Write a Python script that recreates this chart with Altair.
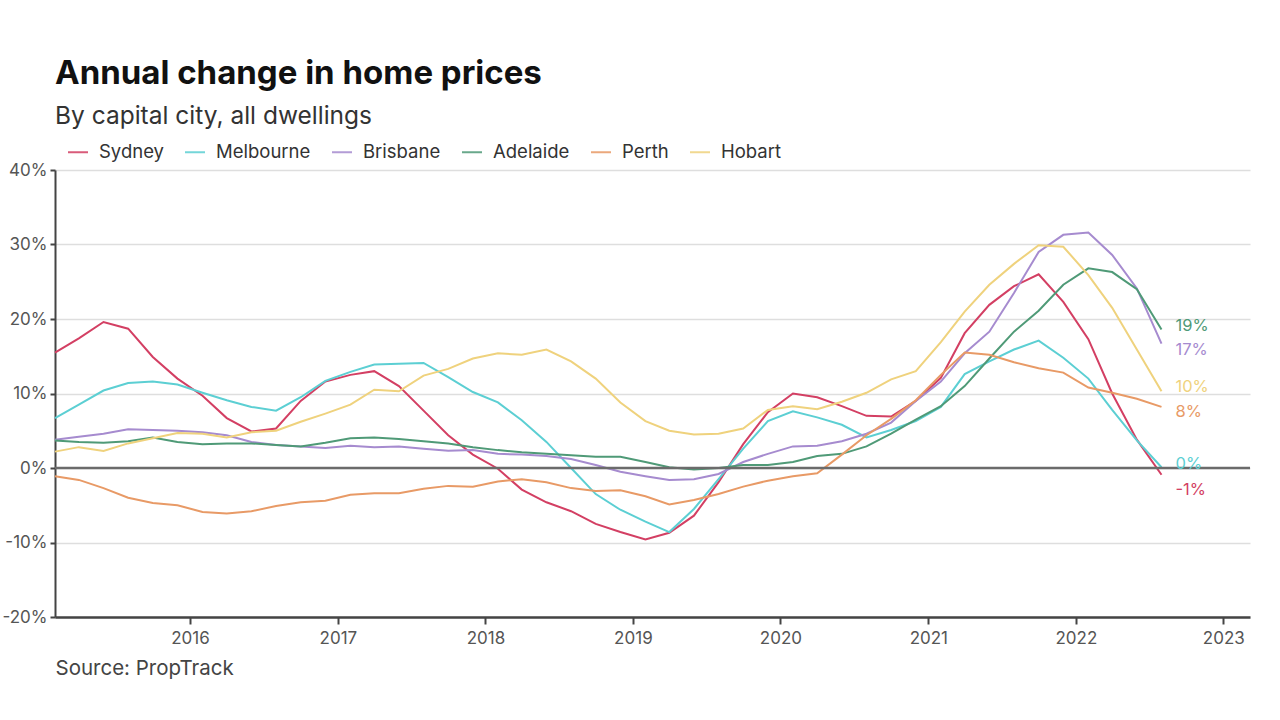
import altair as alt
import pandas as pd

# bimonthly observations, Feb 2015 .. Aug 2022
dates = pd.date_range("2015-02-01", "2022-08-01", freq="2MS")

cities = ["Sydney", "Melbourne", "Brisbane", "Adelaide", "Perth", "Hobart"]
colors = ["#d33f63", "#5ccfd3", "#a68bcf", "#4f9a77", "#e89a66", "#efd27d"]

sydney = [15.5, 17.4, 19.6, 18.7, 14.9, 12.0,
          9.7, 6.7, 4.9, 5.3, 9.0, 11.6,
          12.5, 13.0, 11.0, 7.7, 4.4, 1.8,
          -0.1, -2.9, -4.6, -5.8, -7.5, -8.6,
          -9.6, -8.7, -6.4, -1.9, 3.2, 7.5,
          10.0, 9.5, 8.3, 7.0, 6.9, 9.0,
          12.1, 18.1, 21.9, 24.4, 26.0, 22.3,
          17.3, 10.0, 3.8, -0.9]
melbourne = [6.7, 8.5, 10.4, 11.4, 11.6, 11.2,
             10.1, 9.1, 8.2, 7.7, 9.5, 11.7,
             12.9, 13.9, 14.0, 14.1, 12.2, 10.2,
             8.8, 6.4, 3.5, 0.0, -3.5, -5.6,
             -7.2, -8.6, -5.5, -1.5, 2.6, 6.3,
             7.6, 6.8, 5.8, 4.1, 5.1, 6.3,
             8.2, 12.6, 14.3, 15.9, 17.1, 14.8,
             12.0, 7.8, 3.7, 0.1]
brisbane = [3.8, 4.2, 4.6, 5.2, 5.1, 5.0,
            4.8, 4.4, 3.5, 3.1, 2.9, 2.7,
            3.0, 2.8, 2.9, 2.6, 2.3, 2.4,
            1.9, 1.8, 1.6, 1.2, 0.4, -0.5,
            -1.1, -1.6, -1.5, -0.8, 0.8, 1.9,
            2.9, 3.0, 3.6, 4.6, 6.1, 9.0,
            11.6, 15.4, 18.3, 23.5, 29.0, 31.3,
            31.6, 28.6, 24.1, 16.7]
adelaide = [3.7, 3.5, 3.4, 3.6, 4.1, 3.5,
            3.2, 3.3, 3.3, 3.1, 2.9, 3.4,
            4.0, 4.1, 3.9, 3.6, 3.3, 2.8,
            2.4, 2.1, 1.9, 1.7, 1.5, 1.5,
            0.8, 0.1, -0.2, 0.0, 0.4, 0.4,
            0.8, 1.6, 1.9, 2.9, 4.6, 6.5,
            8.3, 11.0, 14.7, 18.3, 21.1, 24.6,
            26.8, 26.3, 24.0, 18.6]
perth = [-1.1, -1.6, -2.7, -4.0, -4.7, -5.0,
         -5.9, -6.1, -5.8, -5.1, -4.6, -4.4,
         -3.6, -3.4, -3.4, -2.8, -2.4, -2.5,
         -1.8, -1.5, -1.9, -2.7, -3.1, -3.0,
         -3.8, -4.9, -4.3, -3.5, -2.5, -1.7,
         -1.1, -0.7, 1.8, 4.4, 6.6, 9.1,
         12.5, 15.5, 15.2, 14.2, 13.4, 12.8,
         10.8, 10.1, 9.3, 8.2]
hobart = [2.2, 2.8, 2.3, 3.3, 4.0, 4.7,
          4.6, 4.1, 4.8, 5.0, 6.2, 7.3,
          8.5, 10.5, 10.3, 12.4, 13.3, 14.7,
          15.4, 15.2, 15.9, 14.3, 12.0, 8.8,
          6.3, 5.0, 4.5, 4.6, 5.3, 7.8,
          8.3, 7.9, 8.9, 10.1, 11.9, 13.0,
          16.9, 21.0, 24.6, 27.4, 29.9, 29.7,
          25.9, 21.5, 15.9, 10.3]

series = [sydney, melbourne, brisbane, adelaide, perth, hobart]
end_labels = ["-1%", "0%", "17%", "19%", "8%", "10%"]
label_dy = [15, -3, 6, -3, 5, -4]

rows = []
for city, vals in zip(cities, series):
    for d, v in zip(dates, vals):
        rows.append({"date": d, "city": city, "value": v})
df = pd.DataFrame(rows)

FONT = "Inter"

x_enc = alt.X(
    "date:T",
    scale=alt.Scale(domain=["2015-02-01", "2023-03-08"]),
    axis=alt.Axis(
        values=[f"{y}-01-01" for y in range(2016, 2024)],
        format="%Y", grid=False,
        domainColor="#444", domainWidth=2.5,
        tickColor="#444", tickWidth=2, tickSize=7,
        labelFont=FONT, labelFontSize=17, labelColor="#555", labelPadding=6,
        title="Source: PropTrack", titleFont=FONT, titleFontSize=20.5,
        titleFontWeight="normal", titleColor="#444",
        titleAnchor="start", titleAlign="left", titleBaseline="alphabetic",
        titleX=0, titleY=57,
    ),
)
y_enc = alt.Y(
    "value:Q",
    scale=alt.Scale(domain=[-20, 40], nice=False),
    axis=alt.Axis(
        values=[-20, -10, 0, 10, 20, 30, 40],
        labelExpr="datum.value + '%'",
        grid=True, gridColor="#dedede", gridWidth=1.5,
        domainColor="#444", domainWidth=2,
        tickColor="#444", tickWidth=2, tickSize=5,
        labelFont=FONT, labelFontSize=17, labelColor="#555", labelPadding=3,
        title=None,
    ),
)

lines = alt.Chart(df).mark_line(strokeWidth=2).encode(
    x=x_enc,
    y=y_enc,
    color=alt.Color(
        "city:N",
        scale=alt.Scale(domain=cities, range=colors),
        sort=cities,
        legend=alt.Legend(
            title=None, orient="none", legendX=12, legendY=-29,
            direction="horizontal", symbolType="stroke", symbolSize=400,
            symbolStrokeWidth=2, symbolOpacity=0.85,
            labelFont=FONT, labelFontSize=18.5, labelColor="#333",
            labelOffset=10, columnPadding=17,
        ),
    ),
    detail="city:N",
)

zero = alt.Chart(pd.DataFrame({"value": [0]})).mark_rule(
    color="#6b6b6b", strokeWidth=2.5
).encode(y="value:Q")

label_layers = []
for city, vals, color, txt, dy in zip(cities, series, colors, end_labels, label_dy):
    ldf = pd.DataFrame({"date": [dates[-1]], "value": [vals[-1]], "txt": [txt]})
    label_layers.append(
        alt.Chart(ldf).mark_text(
            align="left", baseline="middle", dx=14, dy=dy,
            font=FONT, fontSize=16.5, color=color,
        ).encode(x="date:T", y="value:Q", text="txt:N")
    )

chart = alt.layer(lines, zero, *label_layers).properties(
    width=1195,
    height=447,
    autosize=alt.AutoSizeParams(type="none"),
    padding={"left": 55, "top": 170, "right": 30, "bottom": 103},
    background="white",
    title=alt.TitleParams(
        text="Annual change in home prices",
        subtitle="By capital city, all dwellings",
        anchor="start", frame="group",
        font=FONT, fontSize=33, fontWeight="bold", color="#111",
        subtitleFont=FONT, subtitleFontSize=24.5, subtitleColor="#333",
        subtitlePadding=14, offset=13,
    ),
).configure_view(stroke=None)

chart.save("out.html", embed_options={"renderer": "svg", "actions": False})
